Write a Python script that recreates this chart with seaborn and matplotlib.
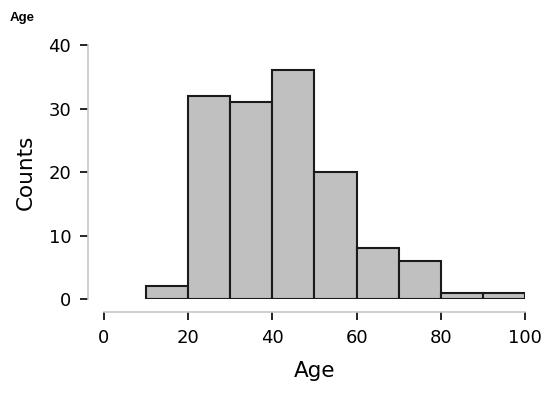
import matplotlib
matplotlib.use("Agg")
import matplotlib.pyplot as plt
import seaborn as sns
import numpy as np

bin_edges = [10, 20, 30, 40, 50, 60, 70, 80, 90, 100]
counts = [2, 32, 31, 36, 20, 8, 6, 1, 1]
x_ticks = [0, 20, 40, 60, 80, 100]
y_ticks = [0, 10, 20, 30, 40]

sns.set_theme(style="ticks")
plt.rcParams['font.family'] = ['DejaVu Sans']
plt.rcParams['text.color'] = 'black'
plt.rcParams['axes.labelcolor'] = 'black'
plt.rcParams['xtick.color'] = 'black'
plt.rcParams['ytick.color'] = 'black'

fig = plt.figure(figsize=(5.5, 3.98), dpi=100)
ax = fig.add_axes([0.189, 0.2487, 0.7655, 0.6382])

centers = [(a + b) / 2 for a, b in zip(bin_edges[:-1], bin_edges[1:])]
sns.histplot(x=centers, weights=counts, bins=bin_edges, ax=ax,
             color="#c0c0c0", edgecolor="#1a1a1a", linewidth=1.5, alpha=1)

ax.set_xlim(0, 100)
ax.set_ylim(0, 40)
ax.set_xticks(x_ticks)
ax.set_yticks(y_ticks)
ax.set_xlabel("Age", fontsize=15.5, labelpad=10)
ax.set_ylabel("Counts", fontsize=15.5, labelpad=9)
ax.tick_params(axis='both', labelsize=13, length=6, width=1.2,
               color="black", labelcolor="black", pad=6)

for s in ["top", "right"]:
    ax.spines[s].set_visible(False)
ax.spines["left"].set_position(("outward", 11.5))
ax.spines["bottom"].set_position(("outward", 9.4))
ax.spines["left"].set_bounds(0, 40)
ax.spines["bottom"].set_bounds(0, 100)
for s in ["left", "bottom"]:
    ax.spines[s].set_color("#c8c8c8")
    ax.spines[s].set_linewidth(1.2)

fig.text(0.018, 0.955, "Age", fontsize=9.5, fontweight="bold", color="black",
         family=["Liberation Sans", "DejaVu Sans"], va="center", ha="left")

fig.savefig("out.png", dpi=100)
